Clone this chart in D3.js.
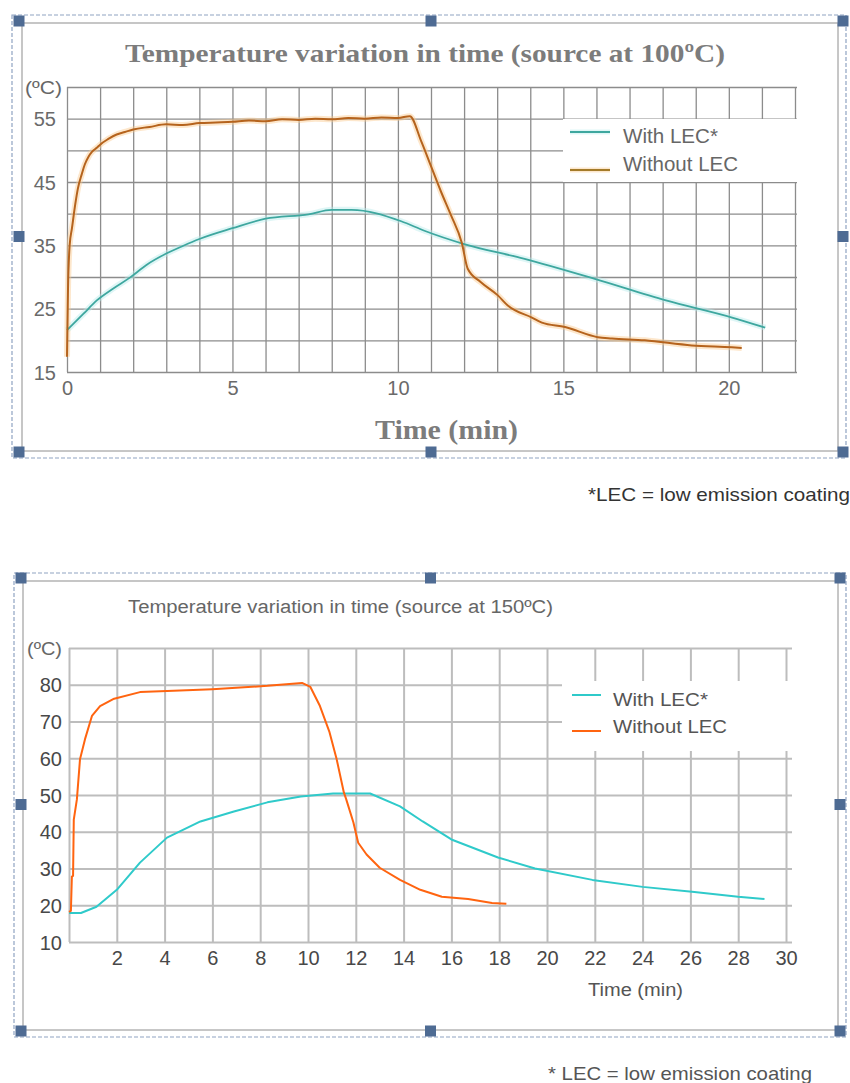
<!DOCTYPE html>
<html><head><meta charset="utf-8">
<script src="https://cdn.jsdelivr.net/npm/d3@7"></script>
<style>body{margin:0;background:#fff;} svg{display:block;}</style>
</head><body>
<svg id="chart" width="850" height="1083"></svg>
<script>
// ---------------- DATA ----------------
const topTitle = "Temperature variation in time (source at 100ºC)";
const bottomTitle = "Temperature variation in time (source at 150ºC)";
const seriesNames = ["With LEC*", "Without LEC"];
const unitLabel = "(ºC)";
const xAxisTitle = "Time (min)";
const topNote = "*LEC = low emission coating";
const bottomNote = "* LEC = low emission coating";

const topXTickLabels = [0, 5, 10, 15, 20];
const topYTickLabels = [15, 25, 35, 45, 55];
const topXGrid = d3.range(0, 23, 1);
const topYGrid = d3.range(15, 61, 5);

const bottomXTickLabels = [2, 4, 6, 8, 10, 12, 14, 16, 18, 20, 22, 24, 26, 28, 30];
const bottomYTickLabels = [10, 20, 30, 40, 50, 60, 70, 80];
const bottomXGrid = d3.range(0, 31, 2);
const bottomYGrid = d3.range(10, 91, 10);

// Top chart (source at 100ºC)
const topWithTime = [0, 0.5, 0.9, 1.4, 1.9, 2.4, 3.0, 3.5, 4.0, 5.0, 6.0, 7.3, 8.0, 8.6, 10.1, 10.8, 12.0, 13.8, 15.95, 18.1, 20.1, 21.1];
const topWithTemp = [21.6, 24.2, 26.3, 28.2, 29.9, 31.9, 33.7, 34.9, 36.0, 37.7, 39.2, 39.9, 40.6, 40.6, 38.8, 37.3, 35.2, 32.9, 29.7, 26.3, 23.6, 22.0];

const topWithoutTime = [0, 0.03, 0.08, 0.15, 0.25, 0.33, 0.45, 0.54, 0.65, 0.76, 0.9, 1.0, 1.25, 1.5, 1.75, 2.0, 2.5, 3.0, 3.5, 4.0, 4.5, 5.0, 5.5, 6.0, 6.5, 7.0, 7.5, 8.0, 8.5, 9.0, 9.5, 10.0, 10.36, 10.7, 11.0, 11.3, 11.6, 11.93, 12.11, 12.5, 13.02, 13.32, 14.05, 14.35, 15.05, 16.04, 16.47, 17.46, 18.88, 20.09, 20.39];
const topWithoutTemp = [17.4, 28, 35, 37.7, 41.5, 44, 46.3, 47.8, 49, 49.8, 50.4, 50.9, 51.8, 52.5, 52.9, 53.3, 53.7, 54.1, 54.0, 54.3, 54.4, 54.5, 54.7, 54.6, 54.9, 54.8, 55.0, 54.9, 55.1, 55.0, 55.2, 55.1, 55.4, 51.5, 47.5, 43.5, 39.8, 35.4, 31.3, 29.2, 27.1, 25.5, 23.6, 22.8, 22.1, 20.5, 20.3, 20.0, 19.2, 18.9, 18.8];

// Bottom chart (source at 150ºC)
const bottomWithTime = [0, 0.5, 1.15, 2.0, 2.97, 4.1, 5.5, 6.9, 8.3, 9.7, 11.05, 12.6, 13.85, 14.8, 16.0, 17.95, 19.5, 21.9, 24.0, 26.07, 28.0, 29.1];
const bottomWithTemp = [17.9, 17.9, 19.6, 24.2, 31.6, 38.4, 42.8, 45.5, 48.0, 49.6, 50.4, 50.4, 46.9, 42.8, 37.9, 33.0, 30.0, 26.9, 25.0, 23.7, 22.3, 21.7];

const bottomWithoutTime = [0, 0.08, 0.12, 0.17, 0.2, 0.33, 0.46, 0.67, 0.96, 1.3, 1.85, 2.97, 4.1, 6.0, 8.3, 9.75, 10.1, 10.5, 10.9, 11.2, 11.5, 11.6, 11.9, 12.1, 12.45, 13.0, 13.85, 14.7, 15.6, 16.7, 17.7, 18.3];
const bottomWithoutTemp = [18.2, 18.5, 27.8, 28.0, 43.3, 48.8, 59.7, 65.2, 71.5, 74.2, 76.1, 78.0, 78.3, 78.8, 79.7, 80.5, 79.4, 74.2, 67.1, 59.7, 50.7, 48.8, 42.5, 37.0, 33.8, 30.2, 26.9, 24.2, 22.3, 21.7, 20.6, 20.4];

// ---------------- DRAW ----------------
const svg = d3.select("#chart");

function zip(a, b) { return a.map((v, i) => [v, b[i]]); }

function txt(g, s, x, y, o) {
  const t = g.append("text").attr("x", x).attr("y", y).text(s)
    .attr("font-family", o.family || "'Liberation Sans', Arial, sans-serif")
    .attr("font-size", o.size).attr("fill", o.fill || "#555")
    .attr("text-anchor", o.anchor || "start")
    .attr("dominant-baseline", "central");
  if (o.weight) t.attr("font-weight", o.weight);
  if (o.width) t.attr("textLength", o.width).attr("lengthAdjust", "spacingAndGlyphs");
  return t;
}

function frame(b) {
  svg.append("rect").attr("x", b.dx0).attr("y", b.dy0).attr("width", b.dx1 - b.dx0).attr("height", b.dy1 - b.dy0)
    .attr("fill", "none").attr("stroke", "#8fa3c2").attr("stroke-width", 1.2).attr("stroke-dasharray", "4,2");
  svg.append("rect").attr("x", b.sx0).attr("y", b.sy0).attr("width", b.sx1 - b.sx0).attr("height", b.sy1 - b.sy0)
    .attr("fill", "none").attr("stroke", "#b4b4b4").attr("stroke-width", 1.5);
  const hx = [b.hx0, (b.hx0 + b.hx1) / 2, b.hx1], hy = [b.hy0, (b.hy0 + b.hy1) / 2, b.hy1];
  hy.forEach((yy, j) => hx.forEach((xx, i) => {
    if (i === 1 && j === 1) return;
    svg.append("rect").attr("x", xx - 5.5).attr("y", yy - 5.5).attr("width", 11).attr("height", 11)
      .attr("fill", "#4e6b93");
  }));
}

function drawChart(c) {
  const x = d3.scaleLinear().domain(c.xDomain).range(c.xRange);
  const y = d3.scaleLinear().domain(c.yDomain).range(c.yRange);
  const g = svg.append("g");
  const h = c.yRange[0] - c.yRange[1], w = c.xRange[1] - c.xRange[0];

  // grid via axes
  g.append("g").attr("transform", `translate(0,${c.yRange[0]})`)
    .call(d3.axisBottom(x).tickValues(c.xGrid).tickSize(-h).tickFormat(""))
    .call(s => s.select(".domain").remove())
    .call(s => s.selectAll("line").attr("stroke", c.gridColor).attr("stroke-width", c.gridWidth));
  g.append("g").attr("transform", `translate(${c.xRange[0]},0)`)
    .call(d3.axisLeft(y).tickValues(c.yGrid).tickSize(-(w + c.gridExtra)).tickFormat(""))
    .call(s => s.select(".domain").remove())
    .call(s => s.selectAll("line").attr("stroke", c.gridColor).attr("stroke-width", c.gridWidth));

  // legend background covering grid
  g.append("rect").attr("x", c.legBox[0]).attr("y", c.legBox[1]).attr("width", c.legBox[2]).attr("height", c.legBox[3]).attr("fill", "#fff");

  // tick labels via axes
  const xa = g.append("g").attr("transform", `translate(0,${c.xLabelY})`)
    .call(d3.axisBottom(x).tickValues(c.xTicks).tickSize(0).tickPadding(0).tickFormat(d3.format("d")));
  xa.select(".domain").remove();
  xa.selectAll("text").attr("font-family", "'Liberation Sans', Arial, sans-serif").attr("font-size", c.tickSize)
    .attr("fill", c.tickColor).attr("dy", null).attr("y", 0).attr("dominant-baseline", "central");
  const ya = g.append("g").attr("transform", `translate(${c.yLabelX},0)`)
    .call(d3.axisLeft(y).tickValues(c.yTicks).tickSize(0).tickPadding(0).tickFormat(d3.format("d")));
  ya.select(".domain").remove();
  ya.selectAll("text").attr("font-family", "'Liberation Sans', Arial, sans-serif").attr("font-size", c.tickSize)
    .attr("fill", c.tickColor).attr("dy", null).attr("dominant-baseline", "central");

  // lines
  const line = d3.line().x(d => x(d[0])).y(d => y(d[1])).curve(c.curve);
  c.series.forEach(s => {
    if (s.halo) g.append("path").datum(s.data).attr("d", line).attr("fill", "none")
      .attr("stroke", s.halo).attr("stroke-width", 6).attr("stroke-opacity", 0.45).attr("stroke-linejoin", "round");
  });
  c.series.forEach(s => {
    g.append("path").datum(s.data).attr("d", line).attr("fill", "none")
      .attr("stroke", s.color).attr("stroke-width", s.width).attr("stroke-linejoin", "round");
  });

  // legend
  c.series.forEach((s, i) => {
    const L = c.legend[i];
    if (s.halo) g.append("line").attr("x1", L.lx0).attr("x2", L.lx1).attr("y1", L.ly).attr("y2", L.ly)
      .attr("stroke", s.halo).attr("stroke-width", 5).attr("stroke-opacity", 0.45);
    g.append("line").attr("x1", L.lx0).attr("x2", L.lx1).attr("y1", L.ly).attr("y2", L.ly)
      .attr("stroke", s.legendColor || s.color).attr("stroke-width", 2);
    txt(g, seriesNames[i], L.tx, L.ty, { size: c.legendSize, fill: c.legendFill, width: L.tw });
  });

  // texts
  txt(g, c.title, c.titlePos[0], c.titlePos[1], c.titleStyle);
  txt(g, unitLabel, c.unitPos[0], c.unitPos[1], c.unitStyle);
  txt(g, xAxisTitle, c.xTitlePos[0], c.xTitlePos[1], c.xTitleStyle);
  txt(g, c.note, c.notePos[0], c.notePos[1], c.noteStyle);
}

// ---------- top chart ----------
frame({ dx0: 12, dy0: 15, dx1: 846, dy1: 458, sx0: 22, sy0: 23, sx1: 838, sy1: 451, hx0: 19, hy0: 21, hx1: 843, hy1: 452 });
drawChart({
  xDomain: [0, 22], xRange: [67, 795],
  yDomain: [15, 60], yRange: [372, 87],
  xGrid: topXGrid, yGrid: topYGrid, gridColor: "#8c8c8c", gridWidth: 1.3, gridExtra: 2,
  xTicks: topXTickLabels, yTicks: topYTickLabels,
  xLabelY: 388, yLabelX: 56, tickSize: 20, tickColor: "#6a6a6a",
  curve: d3.curveMonotoneX,
  series: [
    { data: zip(topWithTime, topWithTemp), color: "#3ea79f", halo: "#b8ecea", width: 1.8 },
    { data: zip(topWithoutTime, topWithoutTemp), color: "#b5631d", halo: "#fbc98e", width: 2, legendColor: "#a47b2a" }
  ],
  legBox: [563, 119, 236, 63],
  legend: [
    { lx0: 570, lx1: 610, ly: 132, tx: 623, ty: 136, tw: 95 },
    { lx0: 570, lx1: 610, ly: 170, tx: 623, ty: 164, tw: 115 }
  ],
  legendSize: 20, legendFill: "#666",
  title: topTitle, titlePos: [125, 53],
  titleStyle: { family: "'Liberation Serif', 'Times New Roman', serif", size: 26, weight: "bold", fill: "#7c7c7c", width: 600 },
  unitPos: [25, 88], unitStyle: { size: 18, fill: "#666", width: 37 },
  xTitlePos: [375, 430], xTitleStyle: { family: "'Liberation Serif', 'Times New Roman', serif", size: 27, weight: "bold", fill: "#7c7c7c", width: 143 },
  note: topNote, notePos: [588, 494], noteStyle: { size: 19, fill: "#333", width: 262 }
});

// ---------- bottom chart ----------
frame({ dx0: 14, dy0: 573, dx1: 846, dy1: 1037, sx0: 23, sy0: 581, sx1: 838, sy1: 1030, hx0: 21, hy0: 578, hx1: 840, hy1: 1031 });
drawChart({
  xDomain: [0, 30], xRange: [69, 786],
  yDomain: [10, 90], yRange: [942, 648],
  xGrid: bottomXGrid, yGrid: bottomYGrid, gridColor: "#bdbdbd", gridWidth: 2, gridExtra: 6,
  xTicks: bottomXTickLabels, yTicks: bottomYTickLabels,
  xLabelY: 958, yLabelX: 62, tickSize: 20, tickColor: "#484848",
  curve: d3.curveLinear,
  series: [
    { data: zip(bottomWithTime, bottomWithTemp), color: "#2fcaca", width: 2 },
    { data: zip(bottomWithoutTime, bottomWithoutTemp), color: "#ff6410", width: 2 }
  ],
  legBox: [562, 681, 236, 70],
  legend: [
    { lx0: 572, lx1: 601, ly: 695, tx: 613, ty: 699, tw: 95 },
    { lx0: 572, lx1: 601, ly: 731, tx: 613, ty: 726, tw: 114 }
  ],
  legendSize: 19, legendFill: "#555",
  title: bottomTitle, titlePos: [128, 607],
  titleStyle: { size: 18, fill: "#666", width: 425 },
  unitPos: [27, 648], unitStyle: { size: 19, fill: "#666", width: 35 },
  xTitlePos: [588, 990], xTitleStyle: { size: 18, fill: "#555", width: 95 },
  note: bottomNote, notePos: [548, 1073], noteStyle: { size: 19, fill: "#555", width: 264 }
});
</script>
</body></html>
